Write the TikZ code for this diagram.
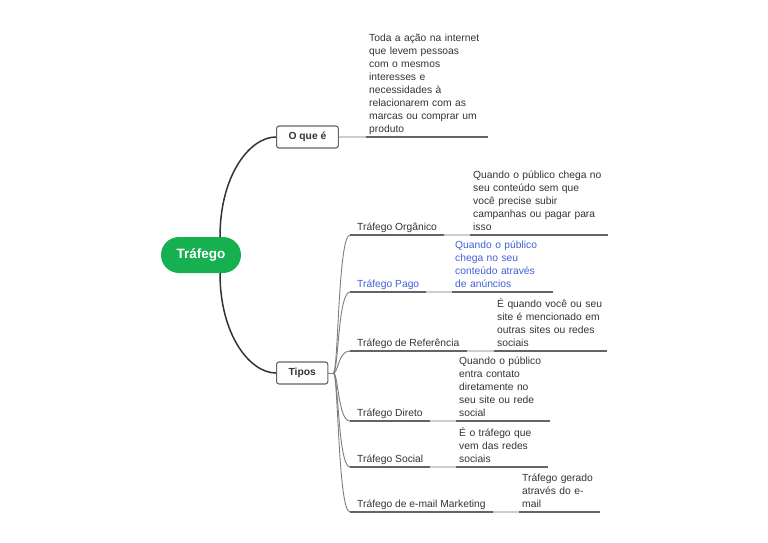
\documentclass[tikz,border=0pt]{standalone}
\usepackage{fontspec}
\setmainfont{Liberation Sans}
\usepackage{xcolor}
\usepackage{tikz}
\usetikzlibrary{positioning}

\definecolor{vertcentral}{RGB}{22,176,80}
\definecolor{bleulien}{RGB}{64,96,214}
\definecolor{textegris}{RGB}{51,51,51}
\definecolor{traitgris}{RGB}{100,100,100}
\definecolor{traitclair}{RGB}{205,205,205}
\definecolor{branchegris}{RGB}{125,125,125}

\newcommand{\txtmap}{\fontsize{10.3}{13}\selectfont}

\tikzset{
  central/.style={rectangle, rounded corners=18pt, fill=vertcentral, text=white,
    font=\bfseries\fontsize{13.5}{16}\selectfont, minimum width=80pt, minimum height=36pt},
  sujet/.style={draw=traitgris, line width=1.1pt, rounded corners=2.5pt, fill=white,
    text=textegris, font=\bfseries\txtmap, inner xsep=12pt, minimum height=22pt, anchor=west},
  etiquette/.style={font=\txtmap, text=textegris, inner xsep=7pt, inner ysep=0.6pt,
    anchor=south west, execute at end node=\strut},
  detail/.style={font=\txtmap, text=textegris, align=left, inner xsep=3pt, inner ysep=0.6pt,
    anchor=south west, execute at end node=\strut},
  lien/.style={line width=1.5pt, draw=textegris},
  branche/.style={line width=0.9pt, draw=branchegris},
  souligne/.style={line width=1.1pt, draw=traitgris},
  raccord/.style={line width=1.1pt, draw=traitclair}
}

\begin{document}
\begin{tikzpicture}[x=1pt, y=-1pt]
\useasboundingbox (0,0) rectangle (768,543);

% Noeud central et sujets
\node[central] (trafego) at (201,255) {Tráfego};
\node[sujet] (oque) at (276,137) {O que é};
\node[sujet] (tipos) at (276,373) {Tipos};

\draw[lien] ([xshift=19pt]trafego.north) .. controls +(0,-62) and +(-26,0) .. (oque.west);
\draw[lien] ([xshift=19pt]trafego.south) .. controls +(0,62) and +(-26,0) .. (tipos.west);

% Définition
\node[detail, text width=116pt] (oqueD) at (366,137) {Toda a ação na internet\\que levem pessoas\\com o mesmos\\interesses e\\necessidades à\\relacionarem com as\\marcas ou comprar um\\produto};

\path
(oque.east) edge[raccord] (oqueD.south west)
(oqueD.south west) edge[souligne] (oqueD.south east);

% Types de trafic
\coordinate (noeud) at ([xshift=5pt]tipos.east);

\node[etiquette] (org) at (350,235) {Tráfego Orgânico};
\node[detail, text width=132pt] (orgD) at (470,235) {Quando o público chega no\\seu conteúdo sem que\\você precise subir\\campanhas ou pagar para\\isso};

\node[etiquette, text=bleulien] (pago) at (350,292) {Tráfego Pago};
\node[detail, text=bleulien, text width=95pt] (pagoD) at (452,292) {Quando o público\\chega no seu\\conteúdo através\\de anúncios};

\node[etiquette] (ref) at (350,351) {Tráfego de Referência};
\node[detail, text width=107pt] (refD) at (494,351) {É quando você ou seu\\site é mencionado em\\outras sites ou redes\\sociais};

\node[etiquette] (dir) at (350,421) {Tráfego Direto};
\node[detail, text width=88pt] (dirD) at (456,421) {Quando o público\\entra contato\\diretamente no\\seu site ou rede\\social};

\node[etiquette] (soc) at (350,467) {Tráfego Social};
\node[detail, text width=86pt] (socD) at (456,467) {É o tráfego que\\vem das redes\\sociais};

\node[etiquette] (mail) at (350,512) {Tráfego de e-mail Marketing};
\node[detail, text width=75pt] (mailD) at (519,512) {Tráfego gerado\\através do e-\\mail};

% Branches
\draw[branche] (tipos.east) -- (noeud);
\draw[branche] (noeud) .. controls +(5,0) and +(-12,0) .. (org.south west);
\draw[branche] (noeud) .. controls +(5,0) and +(-12,0) .. (pago.south west);
\draw[branche] (noeud) .. controls +(5,0) and +(-12,0) .. (ref.south west);
\draw[branche] (noeud) .. controls +(5,0) and +(-12,0) .. (dir.south west);
\draw[branche] (noeud) .. controls +(5,0) and +(-12,0) .. (soc.south west);
\draw[branche] (noeud) .. controls +(5,0) and +(-12,0) .. (mail.south west);

% Soulignements
\path
(org.south west) edge[souligne] (org.south east)
(org.south east) edge[raccord] (orgD.south west)
(orgD.south west) edge[souligne] (orgD.south east)
(pago.south west) edge[souligne] (pago.south east)
(pago.south east) edge[raccord] (pagoD.south west)
(pagoD.south west) edge[souligne] (pagoD.south east)
(ref.south west) edge[souligne] (ref.south east)
(ref.south east) edge[raccord] (refD.south west)
(refD.south west) edge[souligne] (refD.south east)
(dir.south west) edge[souligne] (dir.south east)
(dir.south east) edge[raccord] (dirD.south west)
(dirD.south west) edge[souligne] (dirD.south east)
(soc.south west) edge[souligne] (soc.south east)
(soc.south east) edge[raccord] (socD.south west)
(socD.south west) edge[souligne] (socD.south east)
(mail.south west) edge[souligne] (mail.south east)
(mail.south east) edge[raccord] (mailD.south west)
(mailD.south west) edge[souligne] (mailD.south east);

\end{tikzpicture}
\end{document}
